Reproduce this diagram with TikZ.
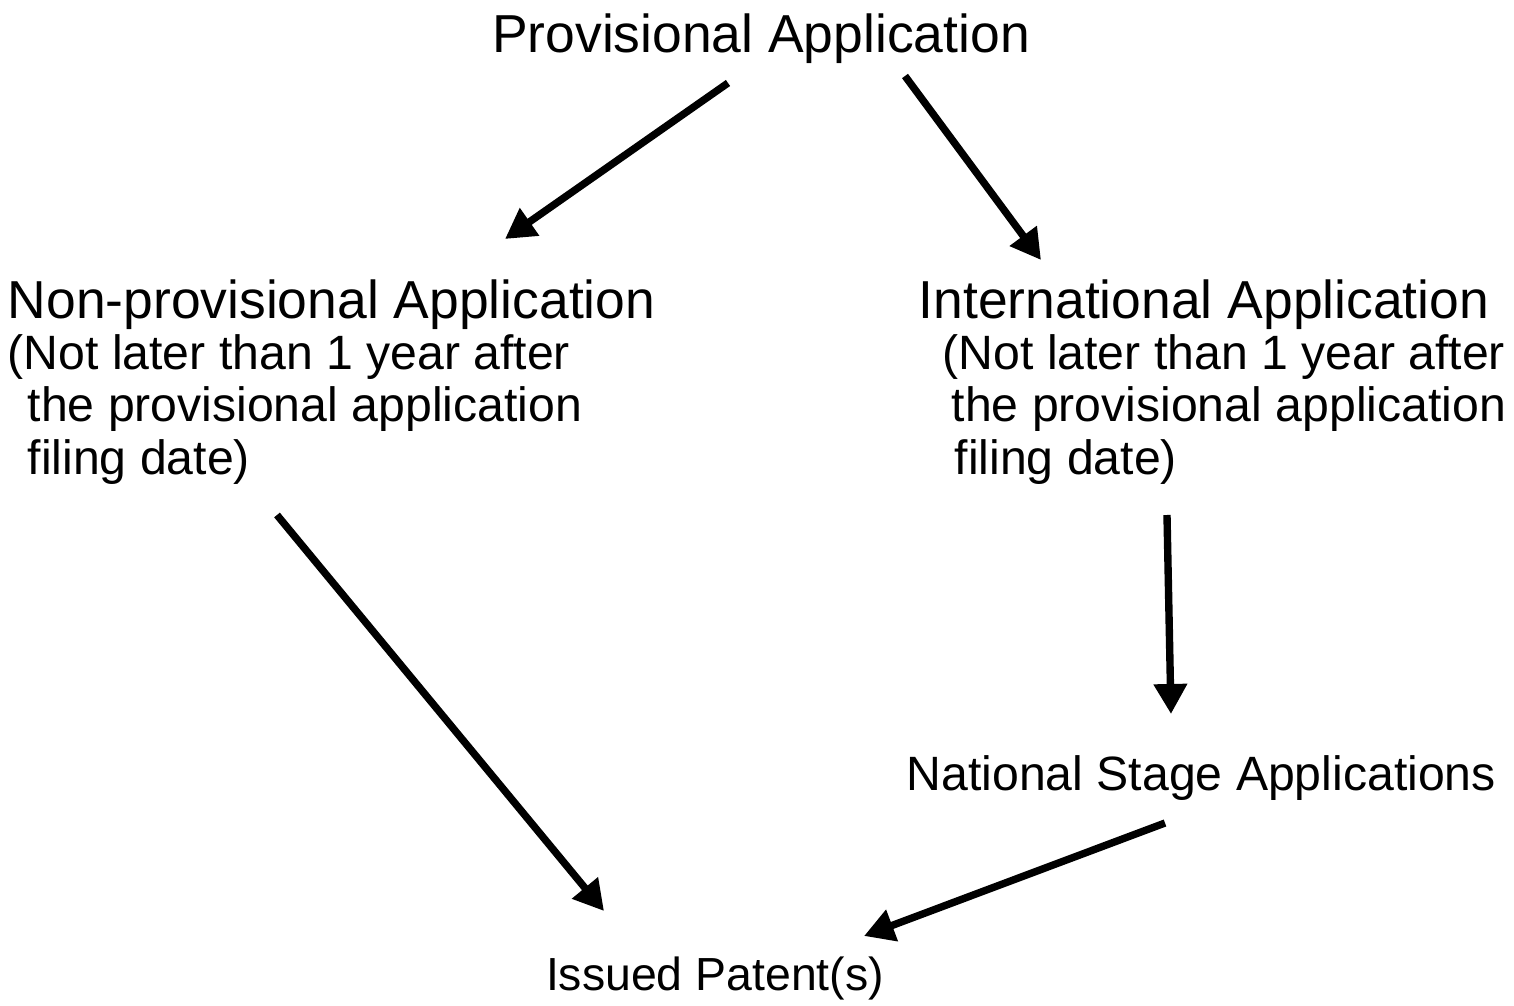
\documentclass[tikz,border=0pt]{standalone}
\usepackage{fontspec}
\setmainfont{Liberation Sans}
\usetikzlibrary{arrows.meta,positioning}

\begin{document}
\begin{tikzpicture}[x=0.01cm,y=-0.01cm,
  title/.style={inner sep=0pt,font=\fontsize{15.2}{18.2}\selectfont},
  note/.style={inner sep=0pt,align=left,font=\fontsize{13.7}{14.8}\selectfont},
  link/.style={line width=2.1pt,-{Triangle[length=0.3cm,width=0.32cm]}}]
\useasboundingbox (0,0) rectangle (1514,1006);

\node[title,anchor=base] at (761,52)	(prov) {Provisional Application};
\node[title,anchor=base west] at (7,318)	(nonprov) {Non-provisional Application};
\node[note,anchor=base west] at (7,474)	(nonprovnote) {(Not later than 1 year after\\\hspace*{0.20cm}the provisional application\\\hspace*{0.20cm}filing date)};
\node[title,anchor=base west] at (918,318)	(intl) {International Application};
\node[note,anchor=base west] at (942,474)	(intlnote) {(Not later than 1 year after\\\hspace*{0.09cm}the provisional application\\\hspace*{0.12cm}filing date)};
\node[note,anchor=base west] at (906,790)	(natl) {National Stage Applications};
\node[note,anchor=base,font=\fontsize{13.2}{14.8}\selectfont] at (715,990)	(issued) {Issued Patent(s)};

\coordinate (prov-l) at (728,83);
\coordinate (prov-r) at (905,76);
\coordinate (nonprov-in) at (505,239);
\coordinate (intl-in) at (1041,260);
\coordinate (nonprov-out) at (277,515);
\coordinate (intl-out) at (1167,515);
\coordinate (natl-in) at (1171,714);
\coordinate (natl-out) at (1165,823);
\coordinate (issued-l) at (604,911);
\coordinate (issued-r) at (864,936);

\draw[link] (prov-l) -- (nonprov-in);
\draw[link] (prov-r) -- (intl-in);
\draw[link] (nonprov-out) -- (issued-l);
\draw[link] (intl-out) -- (natl-in);
\draw[link] (natl-out) -- (issued-r);
\end{tikzpicture}
\end{document}
